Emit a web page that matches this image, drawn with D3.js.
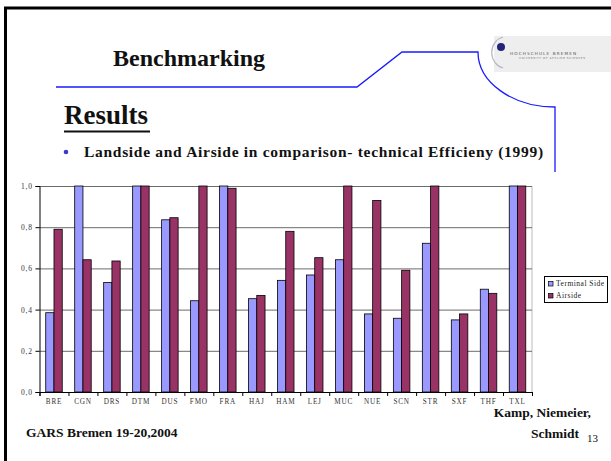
<!DOCTYPE html>
<html>
<head>
<meta charset="utf-8">
<script src="https://cdn.jsdelivr.net/npm/d3@7"></script>
<style>
  body { margin: 0; background: #fff; }
  svg { display: block; font-family: "Liberation Serif", "Times New Roman", serif; }
</style>
</head>
<body>
<div id="chart"></div>
<script>
// Data
const categories = ["BRE", "CGN", "DRS", "DTM", "DUS", "FMO", "FRA", "HAJ", "HAM",
                    "LEJ", "MUC", "NUE", "SCN", "STR", "SXF", "THF", "TXL"];
const terminalSide = [0.385, 1.0, 0.532, 1.0, 0.836, 0.443, 1.0, 0.453, 0.542,
                      0.568, 0.642, 0.379, 0.358, 0.722, 0.350, 0.499, 1.0];
const airside = [0.790, 0.642, 0.636, 1.0, 0.846, 1.0, 0.989, 0.469, 0.780,
                 0.652, 1.0, 0.930, 0.591, 1.0, 0.379, 0.479, 1.0];
const seriesNames = ["Terminal Side", "Airside"];
const yTicks = [0, 0.2, 0.4, 0.6, 0.8, 1.0];

const W = 611, H = 461;
const plot = { left: 39.5, right: 532, top: 186, bottom: 392 };

const svg = d3.select("#chart").append("svg")
    .attr("width", W)
    .attr("height", H);

// slide frame
svg.append("line").attr("x1", 4).attr("x2", W).attr("y1", 8).attr("y2", 8)
    .attr("stroke", "#000").attr("stroke-width", 3);
svg.append("line").attr("x1", 5.5).attr("x2", 5.5).attr("y1", 7).attr("y2", H)
    .attr("stroke", "#000").attr("stroke-width", 3);

// blue decoration line
svg.append("path")
    .attr("d", "M56,87 L357,87 L402,52 L478,52 A77,55 0 0 0 555,107 L555,172")
    .attr("fill", "none")
    .attr("stroke", "#1a1aff")
    .attr("stroke-width", 1.3);

// logo
const logo = svg.append("g");
logo.append("rect").attr("x", 494).attr("y", 36).attr("width", 117).attr("height", 36)
    .attr("fill", "#eeeeee");
logo.append("path").attr("d", "M503,37 A15,16 0 0 0 503,68")
    .attr("fill", "none").attr("stroke", "#b8b8c8").attr("stroke-width", 1.2);
logo.append("circle").attr("cx", 501).attr("cy", 47).attr("r", 4).attr("fill", "#23237a");
logo.append("text").attr("x", 510).attr("y", 54.5)
    .attr("font-family", "DejaVu Sans").attr("font-size", 4.2).attr("letter-spacing", 1.1)
    .attr("fill", "#555").text("HOCHSCHULE BREMEN");
logo.append("text").attr("x", 519).attr("y", 58.5)
    .attr("font-family", "DejaVu Sans").attr("font-size", 2.8).attr("letter-spacing", 0.6)
    .attr("fill", "#777").text("UNIVERSITY OF APPLIED SCIENCES");

// titles
svg.append("text").attr("x", 113).attr("y", 66)
    .attr("font-size", 24).attr("font-weight", "bold").attr("fill", "#111")
    .text("Benchmarking");
svg.append("text").attr("x", 64).attr("y", 124)
    .attr("font-size", 27).attr("font-weight", "bold").attr("fill", "#111")
    .text("Results");
svg.append("line").attr("x1", 64).attr("x2", 150).attr("y1", 131.5).attr("y2", 131.5)
    .attr("stroke", "#111").attr("stroke-width", 2);
svg.append("circle").attr("cx", 66).attr("cy", 152).attr("r", 2.3).attr("fill", "#3a3ad0");
svg.append("text").attr("x", 84).attr("y", 157)
    .attr("font-size", 15.5).attr("font-weight", "bold").attr("letter-spacing", 0.7)
    .attr("fill", "#111")
    .text("Landside and Airside in comparison- technical Efficieny (1999)");

// footer
svg.append("text").attr("x", 26).attr("y", 437)
    .attr("font-size", 13.5).attr("font-weight", "bold").attr("fill", "#111")
    .text("GARS Bremen 19-20,2004");
svg.append("text").attr("x", 591).attr("y", 417).attr("text-anchor", "end")
    .attr("font-size", 13.5).attr("font-weight", "bold").attr("fill", "#111")
    .text("Kamp, Niemeier,");
svg.append("text").attr("x", 579).attr("y", 438).attr("text-anchor", "end")
    .attr("font-size", 13.5).attr("font-weight", "bold").attr("fill", "#111")
    .text("Schmidt");
svg.append("text").attr("x", 598).attr("y", 442).attr("text-anchor", "end")
    .attr("font-size", 11).attr("fill", "#111")
    .text("13");

// Scales
const x0 = d3.scaleBand()
    .domain(categories)
    .range([plot.left, plot.right])
    .paddingInner(0.43)
    .paddingOuter(0.215);
const x1 = d3.scaleBand()
    .domain(seriesNames)
    .range([0, x0.bandwidth()]);
const xEdge = d3.scaleLinear()
    .domain([0, categories.length])
    .range([plot.left, plot.right]);
const y = d3.scaleLinear().domain([0, 1]).range([plot.bottom, plot.top]);
const color = d3.scaleOrdinal().domain(seriesNames).range(["#9999ff", "#993366"]);

// plot right edge
svg.append("line")
    .attr("x1", plot.right).attr("x2", plot.right)
    .attr("y1", plot.top).attr("y2", plot.bottom)
    .attr("stroke", "#bbb");

// gridlines
svg.append("g")
    .attr("transform", `translate(${plot.left},0)`)
    .call(d3.axisLeft(y).tickValues(yTicks.slice(1)).tickSize(-(plot.right - plot.left)).tickFormat(""))
    .call(g => g.select(".domain").remove())
    .call(g => g.selectAll("line").attr("stroke", "#6b6b6b"));

// bars
const rows = categories.map((c, i) => ({ cat: c, values: [terminalSide[i], airside[i]] }));
svg.append("g").selectAll("g")
    .data(rows)
    .join("g")
    .attr("transform", d => `translate(${x0(d.cat)},0)`)
    .selectAll("rect")
    .data(d => d.values.map((v, j) => ({ key: seriesNames[j], value: v })))
    .join("rect")
    .attr("x", d => x1(d.key))
    .attr("y", d => y(d.value))
    .attr("width", x1.bandwidth())
    .attr("height", d => y(0) - y(d.value))
    .attr("fill", d => color(d.key))
    .attr("stroke", "#000")
    .attr("stroke-width", 0.8);

// y axis
svg.append("g")
    .attr("transform", `translate(${plot.left},0)`)
    .call(d3.axisLeft(y).tickValues(yTicks).tickSize(4).tickPadding(2.5)
        .tickFormat(d => d3.format(".1f")(d).replace(".", ",")))
    .call(g => g.select(".domain").attr("stroke", "#000"))
    .call(g => g.selectAll("text").attr("font-family", "Liberation Serif")
        .attr("font-size", 7.5).attr("letter-spacing", 0.9).attr("fill", "#333"));

// x axis: tick marks on category edges, labels centered
svg.append("g")
    .attr("transform", `translate(0,${plot.bottom})`)
    .call(d3.axisBottom(xEdge).ticks(categories.length).tickSize(4).tickFormat(""))
    .call(g => g.select(".domain").attr("stroke", "#000"));
svg.append("g")
    .attr("transform", `translate(0,${plot.bottom})`)
    .call(d3.axisBottom(x0).tickSize(0).tickPadding(7))
    .call(g => g.select(".domain").remove())
    .call(g => g.selectAll("text").attr("font-family", "Liberation Serif")
        .attr("font-size", 7.2).attr("letter-spacing", 0.8).attr("fill", "#333"));

// legend
const legend = svg.append("g");
legend.append("rect").attr("x", 544.5).attr("y", 276.5).attr("width", 63).attr("height", 26)
    .attr("fill", "#fff").attr("stroke", "#000").attr("stroke-width", 1);
const item = legend.selectAll("g.item")
    .data(seriesNames)
    .join("g")
    .attr("class", "item")
    .attr("transform", (d, i) => `translate(548.5,${281.5 + i * 12})`);
item.append("rect").attr("width", 4.5).attr("height", 4.5)
    .attr("fill", d => color(d)).attr("stroke", "#000").attr("stroke-width", 0.7);
item.append("text").attr("x", 7.5).attr("y", 4.8)
    .attr("font-size", 7.5).attr("letter-spacing", 0.5).attr("fill", "#222")
    .text(d => d);
</script>
</body>
</html>
